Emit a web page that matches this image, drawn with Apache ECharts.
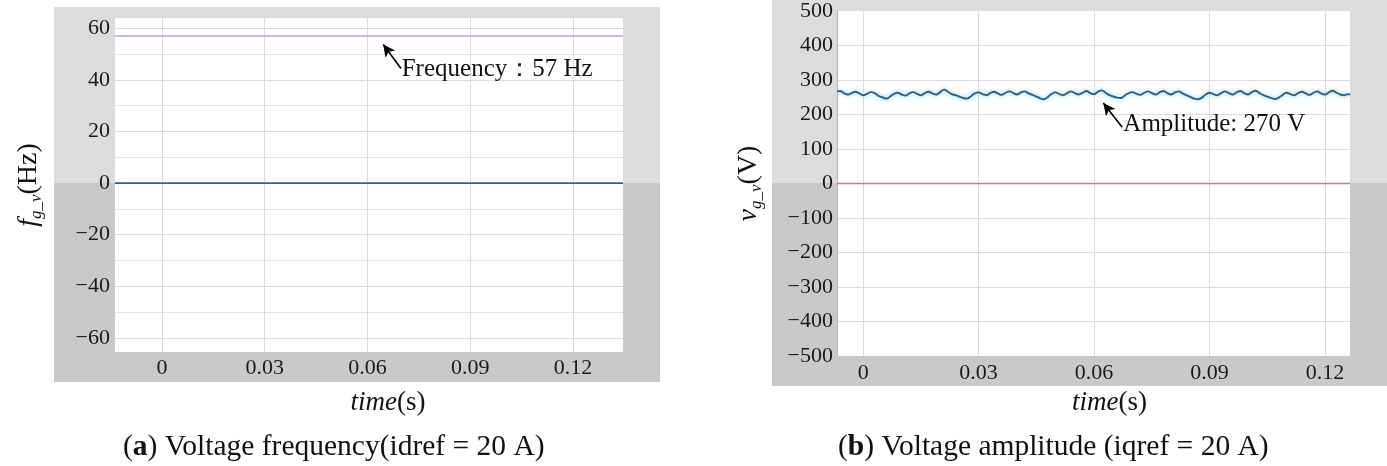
<!DOCTYPE html>
<html>
<head>
<meta charset="utf-8">
<style>
html, body { margin: 0; padding: 0; background: #fff; }
#main { width: 1387px; height: 466px; }
</style>
<script src="https://cdn.jsdelivr.net/npm/echarts@6/dist/echarts.min.js"></script>
</head>
<body>
<div id="main"></div>
<script>
"use strict";

// (a) voltage frequency, two flat traces
var freqTime = [-0.0137, 0.1346];
var freqValue = [57, 57];
var freqZero = [0, 0];

var ampTimeMs = [-6.8,
    -6, -5, -4, -3, -2, -1, 0, 1, 2, 3,
    4, 5, 6, 7, 8, 9, 10, 11, 12, 13,
    14, 15, 16, 17, 18, 19, 20, 21, 22, 23,
    24, 25, 26, 27, 28, 29, 30, 31, 32, 33,
    34, 35, 36, 37, 38, 39, 40, 41, 42, 43,
    44, 45, 46, 47, 48, 49, 50, 51, 52, 53,
    54, 55, 56, 57, 58, 59, 60, 61, 62, 63,
    64, 65, 66, 67, 68, 69, 70, 71, 72, 73,
    74, 75, 76, 77, 78, 79, 80, 81, 82, 83,
    84, 85, 86, 87, 88, 89, 90, 91, 92, 93,
    94, 95, 96, 97, 98, 99, 100, 101, 102, 103,
    104, 105, 106, 107, 108, 109, 110, 111, 112, 113,
    114, 115, 116, 117, 118, 119, 120, 121, 122, 123,
    124, 125, 126, 126.5];
var ampValue = [267,
    268, 262, 258, 262, 266, 261, 256, 260, 265, 262,
    254, 250, 246, 252, 260, 263, 258, 255, 261, 265,
    260, 256, 262, 266, 261, 258, 265, 272, 266, 259,
    256, 252, 248, 246, 253, 261, 264, 259, 256, 262,
    266, 261, 257, 263, 267, 262, 258, 264, 267, 261,
    257, 252, 247, 244, 251, 260, 264, 259, 256, 262,
    267, 262, 258, 263, 268, 262, 259, 266, 270, 263,
    256, 252, 249, 248, 255, 262, 265, 260, 257, 263,
    267, 262, 258, 264, 268, 262, 258, 264, 267, 261,
    256, 251, 246, 244, 249, 258, 263, 259, 256, 262,
    267, 262, 258, 264, 268, 262, 258, 265, 269, 262,
    256, 252, 248, 245, 249, 257, 263, 259, 256, 262,
    266, 261, 257, 263, 267, 261, 258, 264, 269, 263,
    258, 256, 259, 257];
var ampZeroTime = [-0.0068, 0.1265];
var ampZero = [0, 0];

var serif = '"Liberation Serif", "Times New Roman", serif';

function zip(xs, ys) {
    var out = [];
    for (var i = 0; i < xs.length; i++) out.push([xs[i], ys[i]]);
    return out;
}
function msToS(xs) {
    return xs.map(function (v) { return v / 1000; });
}
function minusFmt(v) { return v < 0 ? '\u2212' + Math.abs(v) : String(v); }
function timeFmt(v) { return String(+v.toFixed(2)); }

var nameRich = {
    i: { fontFamily: serif, fontStyle: 'italic', fontSize: 28, color: '#111' },
    s: { fontFamily: serif, fontStyle: 'italic', fontSize: 17, color: '#111', padding: [16, 0, 0, 0] },
    n: { fontFamily: serif, fontSize: 28, color: '#111' }
};
var xNameRich = {
    i: { fontFamily: serif, fontStyle: 'italic', fontSize: 27, color: '#111' },
    n: { fontFamily: serif, fontSize: 27, color: '#111' }
};
var tickLabel = {
    fontFamily: serif, fontSize: 22, color: '#1a1a1a',
    showMinLabel: false, showMaxLabel: false
};
var gridLine = { show: true, showMinLine: false, showMaxLine: false, lineStyle: { color: '#dcdcdc', width: 1 } };
var noteStyle = { fontFamily: serif, fontSize: 25, color: '#111' };

var myChart = echarts.init(document.getElementById('main'));

var option = {
    animation: false,
    backgroundColor: '#fff',
    graphic: [
        { type: 'rect', z: -10, silent: true, shape: { x: 54, y: 7, width: 606, height: 176 }, style: { fill: '#dcdcdc' } },
        { type: 'rect', z: -10, silent: true, shape: { x: 54, y: 183, width: 606, height: 199 }, style: { fill: '#c9c9c9' } },
        { type: 'rect', z: -10, silent: true, shape: { x: 772, y: 0, width: 615, height: 183 }, style: { fill: '#dcdcdc' } },
        { type: 'rect', z: -10, silent: true, shape: { x: 772, y: 183, width: 615, height: 203 }, style: { fill: '#c9c9c9' } }
    ],
    title: [
        {
            text: '({b|a}) Voltage frequency(idref = 20 A)',
            left: 123, top: 430, padding: 0,
            textStyle: { fontFamily: serif, fontSize: 29.5, fontWeight: 'normal', color: '#111', lineHeight: 34,
                rich: { b: { fontFamily: serif, fontSize: 29.5, fontWeight: 'bold', color: '#111', lineHeight: 34 } } }
        },
        {
            text: '({b|b}) Voltage amplitude (iqref = 20 A)',
            left: 838, top: 430, padding: 0,
            textStyle: { fontFamily: serif, fontSize: 29.5, fontWeight: 'normal', color: '#111', lineHeight: 34,
                rich: { b: { fontFamily: serif, fontSize: 29.5, fontWeight: 'bold', color: '#111', lineHeight: 34 } } }
        }
    ],
    grid: [
        { left: 115, top: 18, width: 508, height: 334, show: true, backgroundColor: '#fff', borderWidth: 0 },
        { left: 837, top: 10, width: 513, height: 346, show: true, backgroundColor: '#fff', borderWidth: 0 }
    ],
    xAxis: [
        {
            type: 'value', gridIndex: 0, min: -0.0137, max: 0.1346, minInterval: 0.03, maxInterval: 0.03,
            axisLine: { show: false }, axisTick: { show: false },
            axisLabel: Object.assign({ margin: 5, formatter: timeFmt }, tickLabel),
            splitLine: gridLine,
            name: '{i|time}{n|(s)}', nameLocation: 'middle', nameGap: 37,
            nameTextStyle: { rich: xNameRich, padding: [0, 0, 0, 38] }
        },
        {
            type: 'value', gridIndex: 1, min: -0.0068, max: 0.1265, minInterval: 0.03, maxInterval: 0.03,
            axisLine: { show: false }, axisTick: { show: false },
            axisLabel: Object.assign({ margin: 6, formatter: timeFmt }, tickLabel),
            splitLine: gridLine,
            name: '{i|time}{n|(s)}', nameLocation: 'middle', nameGap: 33,
            nameTextStyle: { rich: xNameRich, padding: [0, 0, 0, 32] }
        }
    ],
    yAxis: [
        {
            type: 'value', gridIndex: 0, min: -65.5, max: 64, minInterval: 20, maxInterval: 20,
            axisLine: { show: false }, axisTick: { show: false },
            axisLabel: Object.assign({ margin: 5, formatter: minusFmt }, tickLabel),
            splitLine: gridLine,
            minorTick: { show: false, splitNumber: 2 },
            minorSplitLine: { show: true, lineStyle: { color: '#e3e3e3', width: 1 } },
            name: '{i|f}{s|g_v}{n|(Hz)}', nameLocation: 'middle', nameRotate: 90, nameGap: 70,
            nameTextStyle: { rich: nameRich }
        },
        {
            type: 'value', gridIndex: 1, min: -500, max: 500, interval: 100,
            axisLine: { show: true, onZero: false, lineStyle: { color: '#b4b4b4', width: 1 } }, axisTick: { show: false },
            axisLabel: Object.assign({ margin: 4, formatter: minusFmt }, tickLabel, { showMinLabel: true, showMaxLabel: true }),
            splitLine: gridLine,
            name: '{i|v}{s|g_v}{n|(V)}', nameLocation: 'middle', nameRotate: 90, nameGap: 72,
            nameTextStyle: { rich: nameRich }
        }
    ],
    series: [
        {
            name: 'frequency', type: 'line', xAxisIndex: 0, yAxisIndex: 0,
            data: zip(freqTime, freqValue), showSymbol: false,
            lineStyle: { color: '#c59ccf', width: 1.4 },
            markLine: {
                silent: true, symbol: ['none', 'arrow'], symbolSize: [9, 12],
                label: { show: false },
                lineStyle: { color: '#000', width: 1.6, type: 'solid' },
                data: [[{ coord: [0.0698, 44.4] }, { coord: [0.0646, 53.7] }]]
            },
            markPoint: {
                silent: true, symbol: 'circle', symbolSize: 0,
                label: Object.assign({ show: true, position: 'right', distance: 0, formatter: 'Frequency：57 Hz' }, noteStyle),
                data: [{ coord: [0.0700, 44.0] }]
            }
        },
        {
            name: 'frequency zero', type: 'line', xAxisIndex: 0, yAxisIndex: 0,
            data: zip(freqTime, freqZero), showSymbol: false,
            lineStyle: { color: '#2f5f9e', width: 1.8 }
        },
        {
            name: 'amplitude zero', type: 'line', xAxisIndex: 1, yAxisIndex: 1,
            data: zip(ampZeroTime, ampZero), showSymbol: false,
            lineStyle: { color: '#d47a80', width: 1.4 }
        },
        {
            name: 'amplitude', type: 'line', xAxisIndex: 1, yAxisIndex: 1,
            data: zip(msToS(ampTimeMs), ampValue), showSymbol: false, smooth: 0.4,
            lineStyle: { color: '#2c6289', width: 1.9, shadowColor: 'rgba(120,205,240,1)', shadowBlur: 4 },
            markLine: {
                silent: true, symbol: ['none', 'arrow'], symbolSize: [9, 12],
                label: { show: false },
                lineStyle: { color: '#000', width: 1.6, type: 'solid' },
                data: [[{ coord: [0.0673, 162.9] }, { coord: [0.0624, 233] }]]
            },
            markPoint: {
                silent: true, symbol: 'circle', symbolSize: 0,
                label: Object.assign({ show: true, position: 'right', distance: 0, formatter: 'Amplitude: 270 V' }, noteStyle),
                data: [{ coord: [0.0676, 171.5] }]
            }
        }
    ]
};
myChart.setOption(option);
</script>
</body>
</html>
